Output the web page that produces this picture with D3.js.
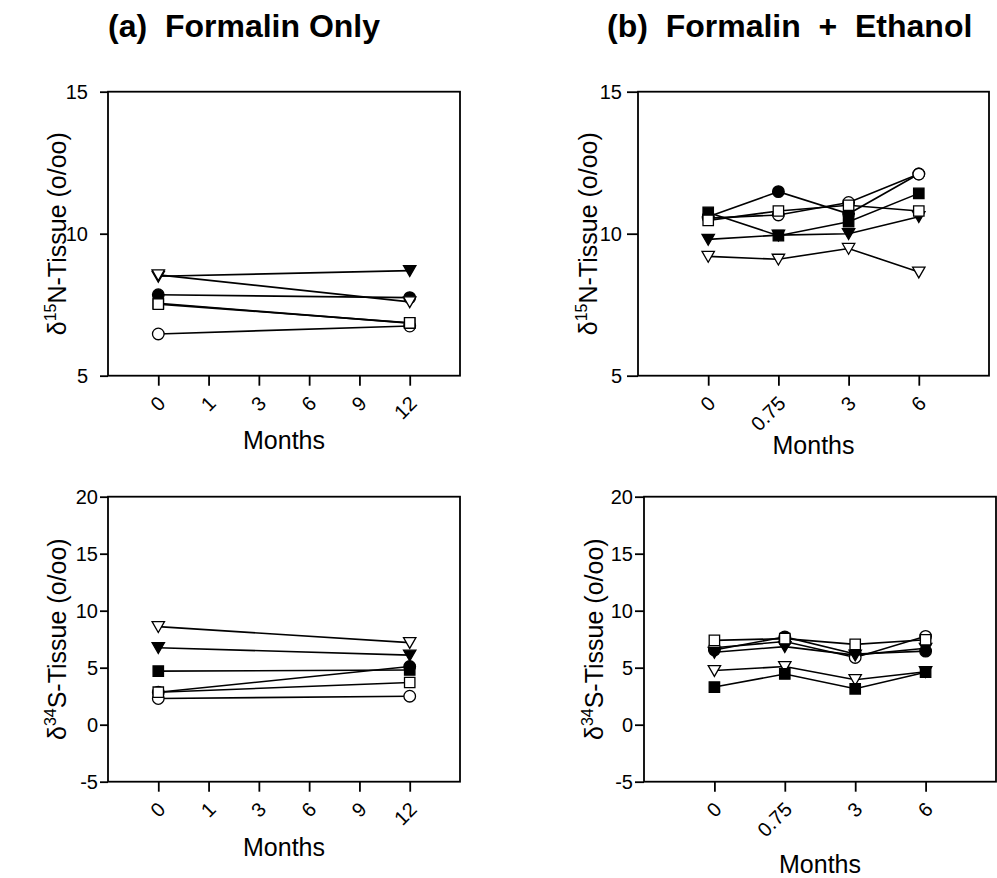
<!DOCTYPE html>
<html>
<head>
<meta charset="utf-8">
<script src="https://cdn.jsdelivr.net/npm/d3@7"></script>
<style>
    body { margin: 0; background: #fff; }
    svg { display: block; font-family: Arial, "Liberation Sans", sans-serif; }
</style>
</head>
<body>
<div id="chart"></div>
<script>
// x categories (equally spaced on the axis)
const monthsFormalin = ["0", "1", "3", "6", "9", "12"];
const monthsEthanol = ["0", "0.75", "3", "6"];
// months that were actually sampled
const sampledFormalin = ["0", "12"];
const sampledEthanol = ["0", "0.75", "3", "6"];

// one row per fish, drawn in this order (later ones on top)
const markers = ["filledCircle", "openCircle", "filledTriangle", "openTriangle", "filledSquare", "openSquare"];

const n15Formalin = [
    [7.85, 7.75],
    [6.47, 6.75],
    [8.5, 8.7],
    [8.55, 7.6],
    [7.55, 6.85],
    [7.52, 6.86]
];
const n15Ethanol = [
    [10.6, 11.48, 10.7, 12.1],
    [10.55, 10.66, 11.1, 12.1],
    [9.8, 9.95, 10.0, 10.6],
    [9.2, 9.1, 9.48, 8.65],
    [10.75, 9.93, 10.42, 11.42],
    [10.47, 10.8, 11.0, 10.8]
];
const s34Formalin = [
    [2.85, 5.1],
    [2.3, 2.5],
    [6.75, 6.1],
    [8.6, 7.2],
    [4.7, 4.8],
    [2.85, 3.7]
];
const s34Ethanol = [
    [6.55, 7.7, 6.2, 6.45],
    [6.75, 7.3, 5.9, 7.75],
    [6.35, 6.85, 6.1, 6.7],
    [4.75, 5.1, 3.95, 4.65],
    [3.3, 4.45, 3.15, 4.6],
    [7.4, 7.55, 7.05, 7.45]
];

const nTicks = [5, 10, 15];
const sTicks = [-5, 0, 5, 10, 15, 20];

const W = 997, H = 878;
let svg = d3.select("#chart").append("svg")
    .attr("width", W)
    .attr("height", H);

// panel layout
const panels = [
    {left: 108, top: 91.7, right: 460, bottom: 375.7, cats: monthsFormalin, sampled: sampledFormalin,
     values: n15Formalin, ticks: nTicks, iso: "15", el: "N", yLabelX: 66, xLabelDy: 73, tick: 8, pad: 12},
    {left: 638, top: 91.7, right: 989, bottom: 375.7, cats: monthsEthanol, sampled: sampledEthanol,
     values: n15Ethanol, ticks: nTicks, iso: "15", el: "N", yLabelX: 597, xLabelDy: 78, tick: 11, pad: 5},
    {left: 108, top: 496.7, right: 460, bottom: 781.7, cats: monthsFormalin, sampled: sampledFormalin,
     values: s34Formalin, ticks: sTicks, iso: "34", el: "S", yLabelX: 66, xLabelDy: 74, tick: 8, pad: 2},
    {left: 644, top: 496.7, right: 996, bottom: 781.7, cats: monthsEthanol, sampled: sampledEthanol,
     values: s34Ethanol, ticks: sTicks, iso: "34", el: "S", yLabelX: 603, xLabelDy: 91, tick: 9, pad: 2}
];

function markerPath(type) {
    if (type.endsWith("Circle")) return d3.symbol(d3.symbolCircle, Math.PI * 5.8 * 5.8)();
    if (type.endsWith("Square")) return "M-5.2,-5.2H5.2V5.2H-5.2Z";
    return "M-6.2,-5H6.2L0,5.8Z"; // triangle pointing down
}

function drawPanel(p) {
    let x = d3.scalePoint().domain(p.cats).range([p.left, p.right]).padding(1);
    let y = d3.scaleLinear().domain(d3.extent(p.ticks)).range([p.bottom, p.top]);
    let g = svg.append("g");

    // frame
    g.append("rect")
        .attr("x", p.left).attr("y", p.top)
        .attr("width", p.right - p.left).attr("height", p.bottom - p.top)
        .attr("fill", "none").attr("stroke", "#000").attr("stroke-width", 1.8);

    let yAxis = g.append("g")
        .attr("transform", "translate(" + p.left + ",0)")
        .call(d3.axisLeft(y).tickValues(p.ticks).tickSize(p.tick).tickPadding(p.pad)
            .tickFormat(function (d) { return String(d); }));
    let xAxis = g.append("g")
        .attr("transform", "translate(0," + p.bottom + ")")
        .call(d3.axisBottom(x).tickSize(10).tickPadding(0));
    [yAxis, xAxis].forEach(function (a) {
        a.select(".domain").remove();
        a.selectAll("line").attr("stroke", "#000").attr("stroke-width", 1.8);
        a.selectAll("text").attr("fill", "#000").attr("font-size", 20).attr("font-family", "Arial, 'Liberation Sans', sans-serif");
    });
    xAxis.selectAll("text")
        .attr("x", 0)
        .attr("y", 0)
        .attr("text-anchor", "end")
        .attr("dy", "0.35em")
        .attr("transform", "translate(3,24) rotate(-45)");

    // axis titles
    g.append("text")
        .attr("x", (p.left + p.right) / 2)
        .attr("y", p.bottom + p.xLabelDy)
        .attr("text-anchor", "middle")
        .attr("font-size", 25)
        .text("Months");

    let yl = g.append("text")
        .attr("transform", "translate(" + p.yLabelX + "," + (p.top + p.bottom) / 2 + ") rotate(-90)")
        .attr("text-anchor", "middle")
        .attr("font-size", 25);
    yl.append("tspan").text("δ");
    yl.append("tspan").attr("font-size", 16).attr("dy", -10).text(p.iso);
    yl.append("tspan").attr("dy", 10).text(p.el + "-Tissue (o/oo)");

    // series
    let line = d3.line()
        .x(function (d) { return x(d.month); })
        .y(function (d) { return y(d.value); });

    p.values.forEach(function (vals, i) {
        let type = markers[i];
        let pts = vals.map(function (v, j) { return {month: p.sampled[j], value: v}; });
        let s = g.append("g").attr("class", "series " + type);
        s.append("path")
            .datum(pts)
            .attr("fill", "none")
            .attr("stroke", "#000")
            .attr("stroke-width", 1.6)
            .attr("d", line);
        s.selectAll(".pt")
            .data(pts)
            .enter()
            .append("path")
            .attr("class", "pt")
            .attr("transform", function (d) { return "translate(" + x(d.month) + "," + y(d.value) + ")"; })
            .attr("d", markerPath(type))
            .attr("fill", type.startsWith("filled") ? "#000" : "#fff")
            .attr("stroke", "#000")
            .attr("stroke-width", 1.3);
    });
}

panels.forEach(drawPanel);

// panel titles
svg.append("text")
    .attr("x", 108).attr("y", 37)
    .attr("font-size", 32).attr("font-weight", "bold")
    .attr("xml:space", "preserve")
    .text("(a)  Formalin Only");
svg.append("text")
    .attr("x", 607).attr("y", 37)
    .attr("font-size", 32).attr("font-weight", "bold")
    .attr("xml:space", "preserve")
    .text("(b)  Formalin  +  Ethanol");
</script>
</body>
</html>
